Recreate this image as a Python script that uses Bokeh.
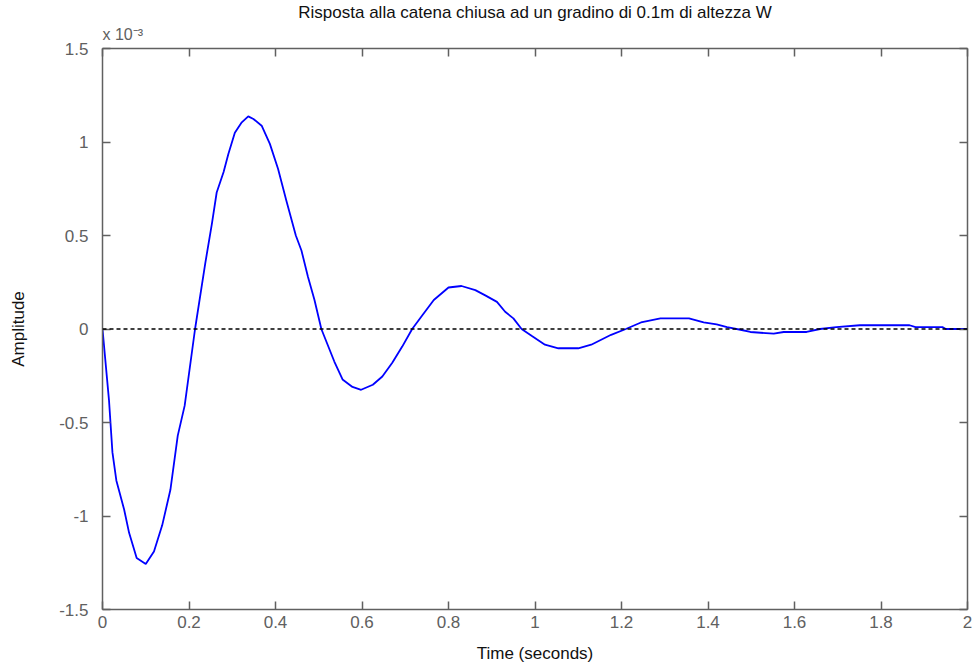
from bokeh.plotting import figure
from bokeh.models import (LinearAxis, FixedTicker, PrintfTickFormatter, Span, Range1d,
                          CustomLabelingPolicy, Title)
from bokeh.embed import file_html
from bokeh.resources import INLINE

# Time (s)
time_s = [0, 0.015, 0.023, 0.032, 0.05, 0.0615, 0.079, 0.1, 0.119, 0.138, 0.157, 0.174,
          0.19, 0.214, 0.2375, 0.253, 0.264, 0.28, 0.291, 0.306, 0.322, 0.337, 0.349,
          0.368, 0.387, 0.406, 0.425, 0.447, 0.46, 0.475, 0.49, 0.506, 0.536, 0.555,
          0.578, 0.598, 0.625, 0.647, 0.67, 0.693, 0.716, 0.74, 0.766, 0.8, 0.83, 0.862,
          0.885, 0.912, 0.931, 0.95, 0.969, 0.992, 1.023, 1.054, 1.1, 1.13, 1.176, 1.21,
          1.245, 1.29, 1.356, 1.39, 1.42, 1.444, 1.475, 1.498, 1.552, 1.575, 1.628,
          1.659, 1.697, 1.751, 1.866, 1.88, 1.942, 1.95, 2.0]
# Amplitude in units of 1e-3
amplitude_e3 = [0, -0.38, -0.66, -0.81, -0.965, -1.09, -1.225, -1.257, -1.19, -1.05, -0.86,
                -0.57, -0.41, 0, 0.35, 0.563, 0.73, 0.84, 0.936, 1.05, 1.105, 1.137, 1.123,
                1.087, 0.99, 0.856, 0.687, 0.5, 0.42, 0.279, 0.156, 0, -0.174, -0.27, -0.31,
                -0.325, -0.298, -0.254, -0.18, -0.094, 0, 0.075, 0.155, 0.222, 0.23, 0.208,
                0.18, 0.145, 0.092, 0.057, 0, -0.036, -0.084, -0.103, -0.103, -0.084, -0.031,
                0, 0.035, 0.057, 0.057, 0.036, 0.025, 0.01, -0.004, -0.016, -0.025, -0.016,
                -0.016, 0, 0.01, 0.02, 0.02, 0.01, 0.01, 0, 0]
final_value = 0.0

x_ticks = [0, 0.2, 0.4, 0.6, 0.8, 1.0, 1.2, 1.4, 1.6, 1.8, 2.0]
y_ticks = [-1.5, -1.0, -0.5, 0, 0.5, 1.0, 1.5]

title_text = "Risposta alla catena chiusa ad un gradino di 0.1m di altezza W"
exponent_text = "x 10⁻³"
FONT = "Liberation Sans"
AX = "#606060"

p = figure(width=972, height=665, output_backend="svg", toolbar_location=None,
           x_range=Range1d(0, 2), y_range=Range1d(-1.5, 1.5),
           x_axis_label="Time (seconds)", y_axis_label="Amplitude",
           min_border_left=102, min_border_right=1, min_border_top=48, min_border_bottom=54)

p.title.text = title_text
p.title.align = "center"
p.title.text_font = FONT
p.title.text_font_size = "17px"
p.title.text_font_style = "normal"
p.title.text_color = "#111111"
p.title.standoff = 0

p.grid.visible = False
p.outline_line_color = None
p.background_fill_color = "white"
p.border_fill_color = "white"

def style_axis(ax, labels=True):
    ax.axis_line_color = AX
    ax.axis_line_width = 1.5
    ax.major_tick_line_color = AX
    ax.major_tick_line_width = 1.5
    ax.major_tick_in = 8
    ax.major_tick_out = 0
    ax.minor_tick_line_color = None
    ax.major_label_text_font = FONT
    ax.major_label_text_font_size = "17px" if labels else "1px"
    ax.major_label_text_color = AX
    ax.axis_label_text_font = FONT
    ax.axis_label_text_font_size = "17px"
    ax.axis_label_text_font_style = "normal"
    ax.axis_label_text_color = "#111111"

p.xaxis.ticker = FixedTicker(ticks=x_ticks)
p.yaxis.ticker = FixedTicker(ticks=y_ticks)
p.xaxis.formatter = PrintfTickFormatter(format="%g")
p.yaxis.formatter = PrintfTickFormatter(format="%g")
style_axis(p.xaxis[0])
style_axis(p.yaxis[0])
p.xaxis.major_label_standoff = 6
p.xaxis.axis_label_standoff = 13
p.yaxis.major_label_standoff = 14
p.yaxis.axis_label_standoff = 28

top_ax = LinearAxis(ticker=FixedTicker(ticks=x_ticks))
right_ax = LinearAxis(ticker=FixedTicker(ticks=y_ticks))
for ax in (top_ax, right_ax):
    style_axis(ax, labels=False)
    ax.major_label_standoff = 0
    ax.major_label_policy = CustomLabelingPolicy(code="")
p.add_layout(top_ax, "above")
p.add_layout(right_ax, "right")

# exponent of the y axis, just above the frame's top-left corner
p.add_layout(Title(text=exponent_text, align="left", text_font=FONT, text_font_size="16px",
                   text_font_style="normal", text_color=AX, standoff=4), "above")

p.add_layout(Span(location=final_value, dimension="width", line_color="black",
                  line_dash="4 3", line_width=1.5))
p.line(time_s, amplitude_e3, line_color="#0000ff", line_width=1.8)

open("out.html", "w").write(file_html(p, INLINE))
